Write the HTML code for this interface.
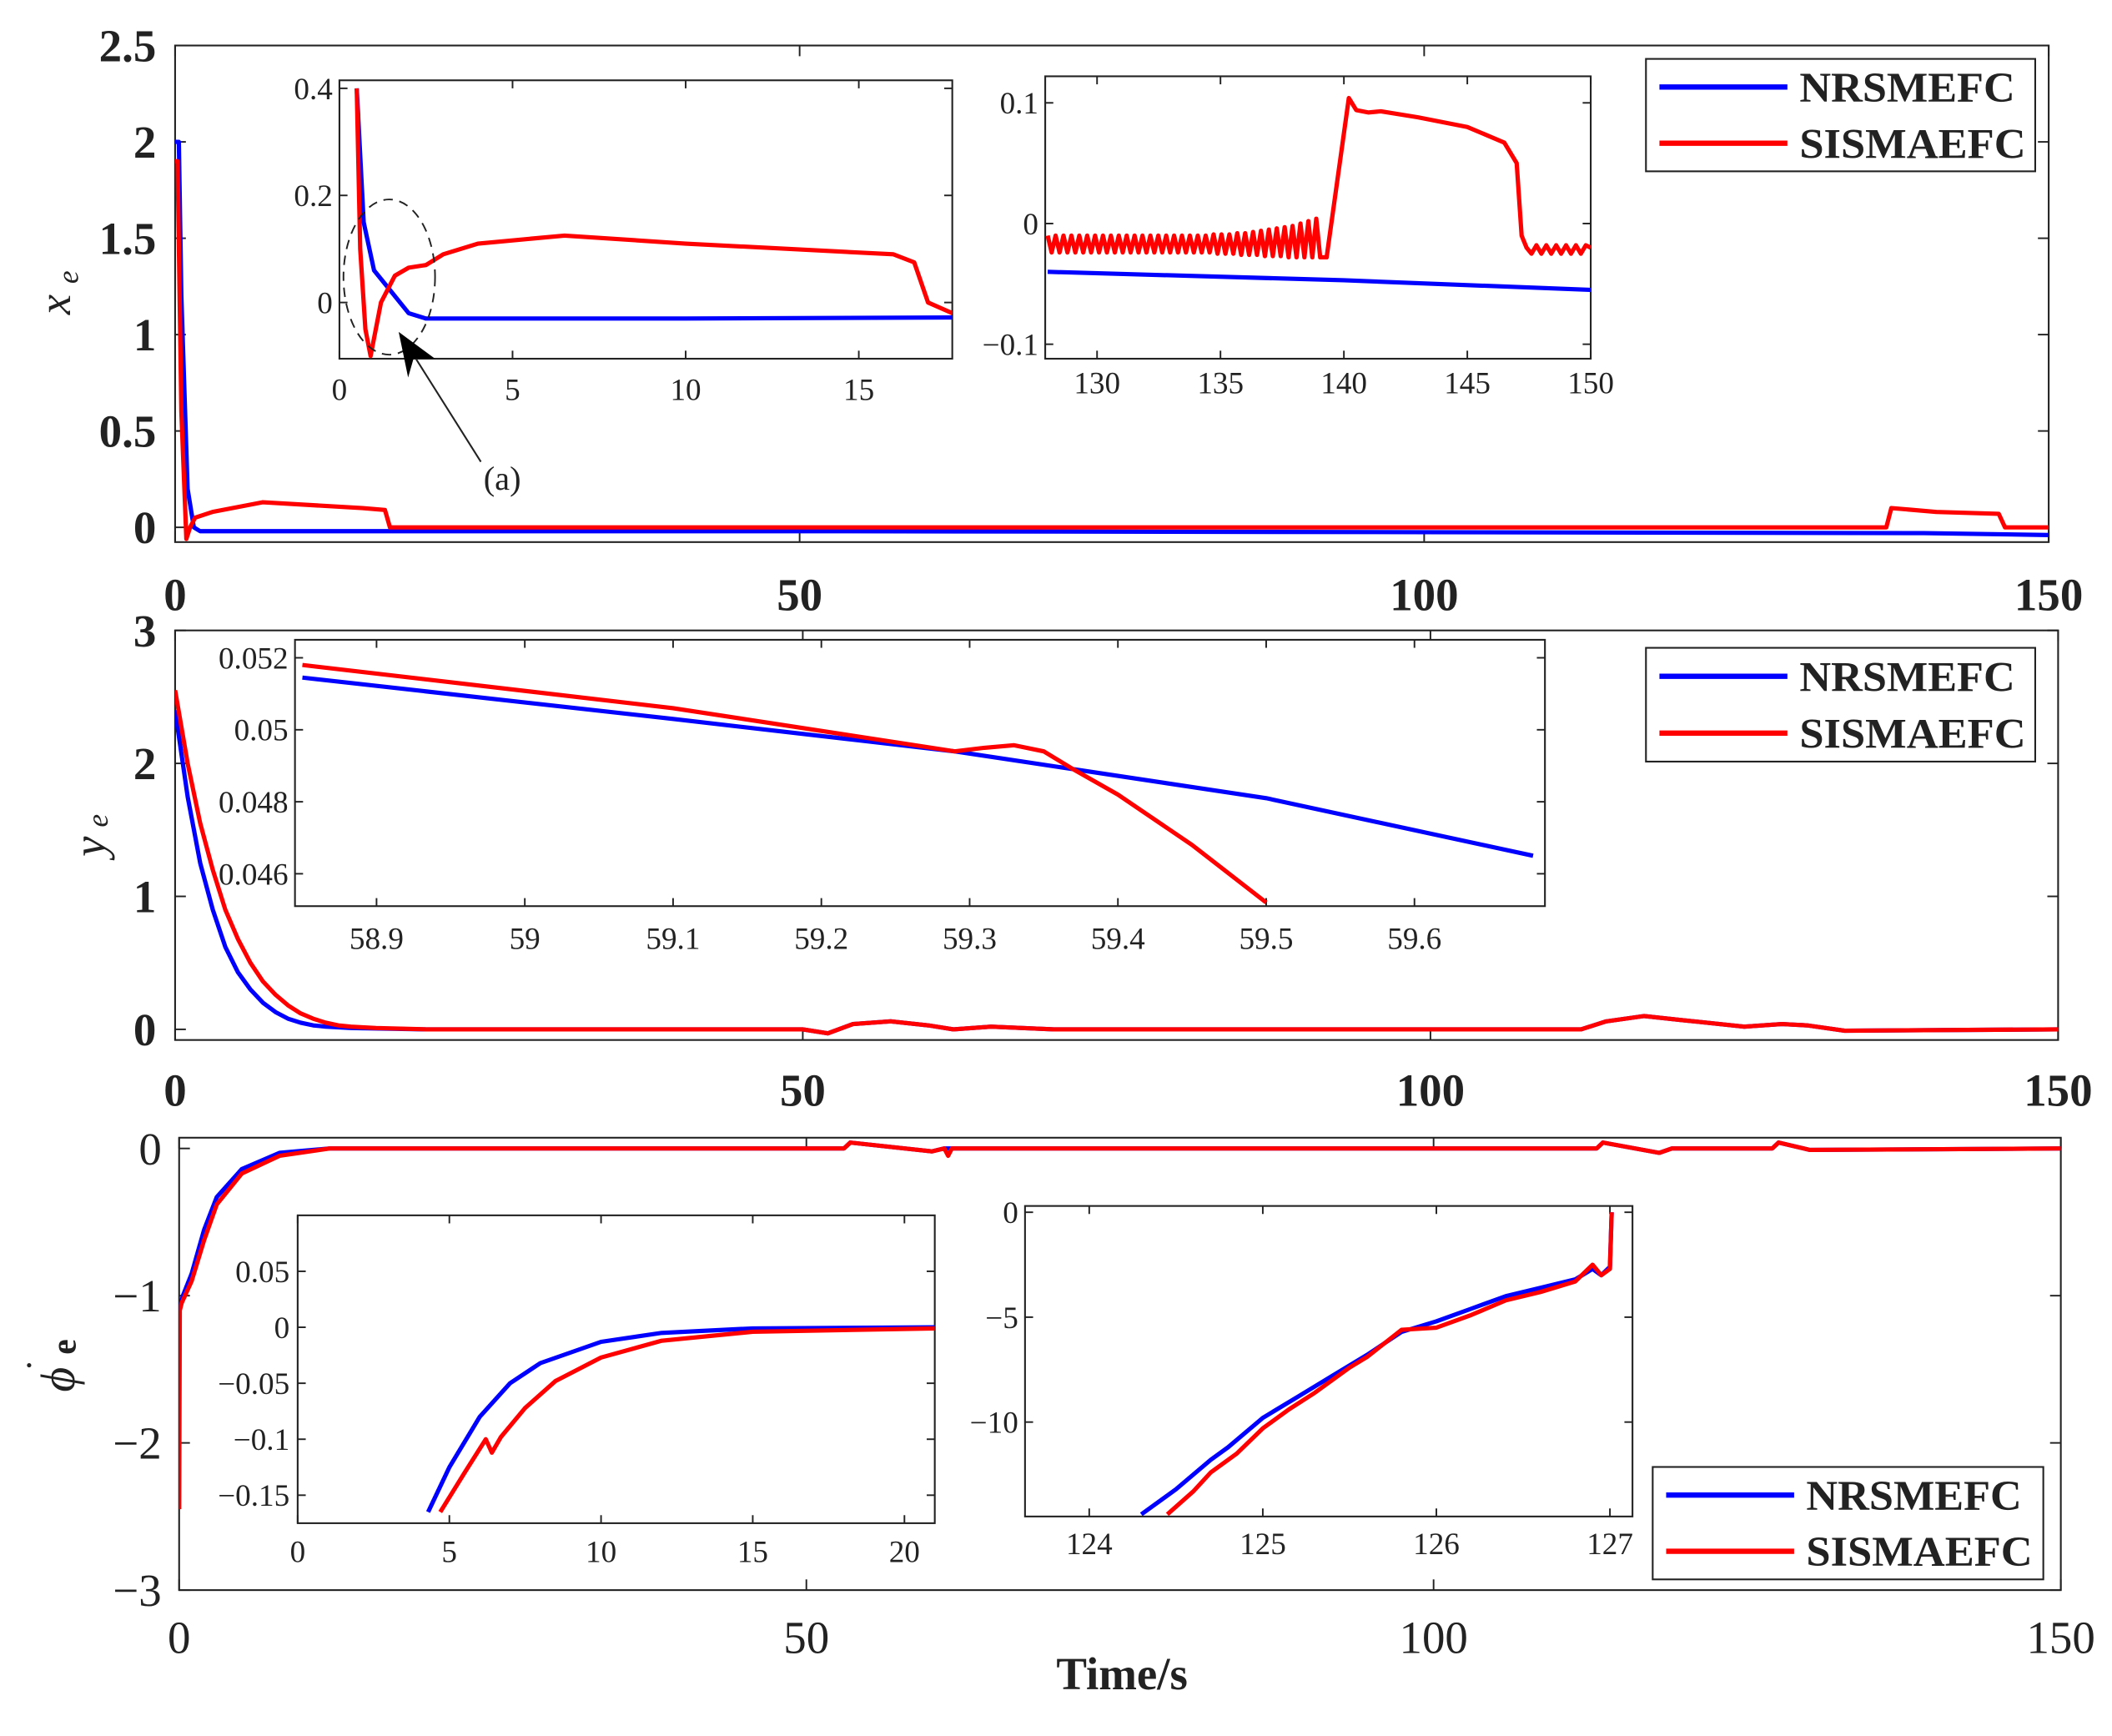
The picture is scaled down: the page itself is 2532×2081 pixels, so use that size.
<!DOCTYPE html>
<html><head><meta charset="utf-8"><style>
html,body{margin:0;padding:0;background:#fff;}
svg{display:block;}
text{font-family:"Liberation Serif",serif;fill:#222;}
</style></head><body>
<svg id="fig" width="2532" height="2081" viewBox="0 0 1568 1297" preserveAspectRatio="none" xmlns="http://www.w3.org/2000/svg">
<rect width="1568" height="1297" fill="#fff"/>
</svg>
<script>
// ---------- data ----------
const p1BlueT=[0,0.3,0.5,1,1.5,2,5,20,50,100,140,150];
const p1BlueV=[2.0,2.0,1.2,0.2,0.0,-0.02,-0.02,-0.02,-0.02,-0.025,-0.03,-0.04];
const p1RedT=[0,0.2,0.5,0.9,1.2,1.6,3,7,15,16.8,17.2,30,60,100,137,137.4,141,146,146.5,150];
const p1RedV=[1.9,1.9,0.6,-0.06,0.0,0.05,0.08,0.13,0.1,0.09,0.0,0.0,0.0,0.0,0.0,0.1,0.08,0.07,0.0,0.0];
const i1aBlueT=[0.5,0.7,1,1.5,2,2.5,3,5,10,17.7];
const i1aBlueV=[0.4,0.15,0.06,0.02,-0.02,-0.03,-0.03,-0.03,-0.03,-0.028];
const i1aRedT=[0.5,0.6,0.75,0.9,1.2,1.6,2.0,2.5,3,4,6.5,10,16,16.6,17,17.7];
const i1aRedV=[0.4,0.1,-0.05,-0.1,0.0,0.05,0.065,0.07,0.09,0.11,0.125,0.11,0.09,0.075,0.0,-0.02];
const i1bBlueT=[128,140,150];
const i1bBlueV=[-0.04,-0.047,-0.055];
const i1bRedT=[128,128.16,128.32,128.48,128.64,128.8,128.96,129.12,129.28,129.44,129.6,129.76,129.92,130.08,130.24,130.4,130.56,130.72,130.88,131.04,131.2,131.36,131.52,131.68,131.84,132,132.16,132.32,132.48,132.64,132.8,132.96,133.12,133.28,133.44,133.6,133.76,133.92,134.08,134.24,134.4,134.56,134.72,134.88,135.04,135.2,135.36,135.52,135.68,135.84,136,136.16,136.32,136.48,136.64,136.8,136.96,137.12,137.28,137.44,137.6,137.76,137.92,138.08,138.24,138.4,138.56,138.72,138.88,139.04,139.3,140.2,140.5,141,141.5,143,145,146.5,147,147.2,147.4,147.6,147.8,148,148.2,148.4,148.6,148.8,149,149.2,149.4,149.6,149.8,150];
const i1bRedV=[-0.01,-0.024,-0.01,-0.024,-0.01,-0.024,-0.01,-0.024,-0.01,-0.024,-0.01,-0.024,-0.01,-0.024,-0.01,-0.024,-0.01,-0.024,-0.01,-0.024,-0.01,-0.024,-0.01,-0.024,-0.01,-0.024,-0.01,-0.024,-0.01,-0.024,-0.01,-0.024,-0.01,-0.024,-0.01,-0.024,-0.01,-0.024,-0.01,-0.024,-0.01,-0.024,-0.009,-0.025,-0.009,-0.025,-0.009,-0.025,-0.008,-0.026,-0.008,-0.026,-0.007,-0.026,-0.006,-0.027,-0.005,-0.027,-0.004,-0.027,-0.003,-0.028,-0.002,-0.028,0.0,-0.028,0.002,-0.028,0.004,-0.028,-0.028,0.104,0.094,0.092,0.093,0.088,0.08,0.067,0.05,-0.01,-0.02,-0.025,-0.018,-0.025,-0.018,-0.025,-0.018,-0.025,-0.018,-0.025,-0.018,-0.025,-0.018,-0.02];
const p2BlueT=[0,1,2,3,4,5,6,7,8,9,10,11,12,14,20,50,52,54,57,60,62,65,70,100,112,114,117,120,125,128,130,133,150];
const p2BlueV=[2.4,1.75,1.25,0.9,0.62,0.43,0.3,0.2,0.13,0.08,0.05,0.03,0.02,0.01,0,0,-0.03,0.04,0.06,0.03,0.0,0.02,0.0,0.0,0.0,0.06,0.1,0.07,0.02,0.04,0.03,-0.01,0.0];
const p2RedT=[0,1,2,3,4,5,6,7,8,9,10,11,12,13,14,16,20,50,52,54,57,60,62,65,70,100,112,114,117,120,125,128,130,133,150];
const p2RedV=[2.55,2.0,1.55,1.2,0.9,0.68,0.5,0.36,0.26,0.18,0.12,0.08,0.05,0.03,0.02,0.01,0,0,-0.03,0.04,0.06,0.03,0.0,0.02,0.0,0.0,0.0,0.06,0.1,0.07,0.02,0.04,0.03,-0.01,0.0];
const i2BlueT=[58.85,59.1,59.29,59.5,59.68];
const i2BlueV=[0.05145,0.0503,0.0494,0.0481,0.0465];
const i2RedT=[58.85,59.1,59.29,59.31,59.33,59.35,59.37,59.4,59.45,59.5];
const i2RedV=[0.0518,0.0506,0.0494,0.0495,0.04957,0.0494,0.0489,0.0482,0.0468,0.0452];
const p3BlueT=[0,0.3,1,2,3,5,8,12,50,53,53.5,60,61,100,113,113.5,118,119,127,127.5,130,150];
const p3BlueV=[-1.1,-1.0,-0.85,-0.55,-0.33,-0.14,-0.03,0,0,0,0.04,-0.02,0,0,0,0.04,-0.03,0,0,0.04,-0.01,0];
const p3RedT=[0,0.05,0.2,1,2,3,5,8,12,50,53,53.5,60,61,61.3,61.6,100,113,113.5,118,119,127,127.5,130,150];
const p3RedV=[-2.45,-1.1,-1.05,-0.9,-0.62,-0.38,-0.17,-0.05,0,0,0,0.04,-0.02,0,-0.05,0,0,0,0.04,-0.03,0,0,0.04,-0.01,0];
const i3aBlueT=[4.3,5,6,7,8,10,12,15,21];
const i3aBlueV=[-0.165,-0.125,-0.08,-0.05,-0.032,-0.013,-0.005,-0.001,0];
const i3aRedT=[4.7,5.5,6.2,6.4,6.7,7.5,8.5,10,12,15,21];
const i3aRedV=[-0.165,-0.13,-0.1,-0.112,-0.098,-0.072,-0.048,-0.027,-0.012,-0.004,-0.001];
const i3bBlueT=[124.3,124.5,124.7,124.8,125,125.2,125.4,125.6,125.8,126,126.2,126.4,126.6,126.8,126.9,126.95,127.0,127.01];
const i3bBlueV=[-14.4,-13.2,-11.8,-11.2,-9.8,-8.8,-7.8,-6.8,-5.7,-5.2,-4.6,-4.0,-3.6,-3.2,-2.7,-3.0,-2.6,0];
const i3bRedT=[124.45,124.6,124.7,124.85,125,125.15,125.3,125.5,125.6,125.8,126,126.2,126.4,126.6,126.8,126.9,126.95,127.0,127.01];
const i3bRedV=[-14.4,-13.3,-12.4,-11.5,-10.3,-9.4,-8.6,-7.4,-6.9,-5.6,-5.5,-4.9,-4.2,-3.8,-3.3,-2.5,-3.0,-2.7,0];

// ---------- helpers ----------
const NS="http://www.w3.org/2000/svg";
const svg=document.getElementById('fig');
function mk(tag,attrs,parent){const e=document.createElementNS(NS,tag);for(const k in attrs)e.setAttribute(k,attrs[k]);(parent||svg).appendChild(e);return e;}
function axes(name,x0,x1,y0,y1,xmin,xmax,ymin,ymax){
  const g=mk('g',{});
  
  
  const sx=v=>x0+(v-xmin)/(xmax-xmin)*(x1-x0);
  const sy=v=>y1-(v-ymin)/(ymax-ymin)*(y1-y0);
  return {g,sx,sy,x0,x1,y0,y1};
}
function frame(a){
  const r=mk('rect',{x:a.x0,y:a.y0,width:a.x1-a.x0,height:a.y1-a.y0,fill:'#fff',stroke:'#222','stroke-width':1.3},a.g);
  
  
}
function xticks(a,vals,labels,ly,fs,bold,tl){
  vals.forEach((v,i)=>{const x=a.sx(v);
    mk('line',{x1:x,x2:x,y1:a.y1,y2:a.y1-tl,stroke:'#222','stroke-width':1.2},a.g);
    mk('line',{x1:x,x2:x,y1:a.y0,y2:a.y0+tl,stroke:'#222','stroke-width':1.2},a.g);
    const t=mk('text',{x:x,y:ly,'text-anchor':'middle','font-size':fs,'font-weight':bold?'bold':'normal'},a.g);
    t.textContent=labels[i];
    
    
  });
}
function yticks(a,vals,labels,lx,fs,bold,tl){
  vals.forEach((v,i)=>{const y=a.sy(v);
    mk('line',{x1:a.x0,x2:a.x0+tl,y1:y,y2:y,stroke:'#222','stroke-width':1.2},a.g);
    mk('line',{x1:a.x1,x2:a.x1-tl,y1:y,y2:y,stroke:'#222','stroke-width':1.2},a.g);
    const t=mk('text',{x:lx,y:y+fs*0.35,'text-anchor':'end','font-size':fs,'font-weight':bold?'bold':'normal'},a.g);
    t.textContent=labels[i];
    
    
  });
}
let clipN=0;
function series(a,T,V,color,name,w){
  const id='c'+(clipN++);
  const cp=mk('clipPath',{id:id},a.g);
  mk('rect',{x:a.x0,y:a.y0,width:a.x1-a.x0,height:a.y1-a.y0},cp);
  const pts=T.map((t,i)=>a.sx(t).toFixed(2)+','+a.sy(V[i]).toFixed(2)).join(' ');
  const p=mk('polyline',{points:pts,fill:'none',stroke:color,'stroke-width':w||3.2,'stroke-linejoin':'round','clip-path':'url(#'+id+')'},a.g);
  
  
}
function legend(x0,y0,x1,y1,name){
  const g=mk('g',{});
  
  
  mk('rect',{x:x0,y:y0,width:x1-x0,height:y1-y0,fill:'#fff',stroke:'#222','stroke-width':1.3},g);
  const h=(y1-y0)/2;
  [['NRSMEFC','#0000ff',160],['SISMAEFC','#ff0000',168]].forEach((e,i)=>{
    const yy=y0+h*(i+0.5);
    const l=mk('line',{x1:x0+10,x2:x0+105,y1:yy,y2:yy,stroke:e[1],'stroke-width':4},g);
    
    
    const t=mk('text',{x:x0+114,y:yy+11,'font-size':32,'font-weight':'bold',textLength:e[2],lengthAdjust:'spacingAndGlyphs'},g);
    t.textContent=e[0];
    
    
  });
}
function lbl(x,y,txt,fs,name,extra){
  const t=mk('text',Object.assign({x:x,y:y,'font-size':fs},extra||{}));
  t.textContent=txt;
  
  
  return t;
}

// ---------- panel 1 ----------
let a=axes('panel-xe',130,1521,34,405,0,150,-0.0765,2.5);
frame(a);
xticks(a,[0,50,100,150],['0','50','100','150'],456,34,true,8);
yticks(a,[0,0.5,1,1.5,2,2.5],['0','0.5','1','1.5','2','2.5'],116,34,true,8);
series(a,p1BlueT,p1BlueV,'#0000ff','series-nrsmefc-xe');
series(a,p1RedT,p1RedV,'#ff0000','series-sismaefc-xe');
lbl(52,235,'x',34,'y-axis-title-xe',{'font-style':'italic',transform:'rotate(-90 52 235)'});
lbl(58,212,'e',22,'y-axis-sub-xe',{'font-style':'italic',transform:'rotate(-90 58 212)'});

a=axes('inset-xe-start',252,707,60,268,0,17.7,-0.105,0.415);
frame(a);
xticks(a,[0,5,10,15],['0','5','10','15'],299,23,false,6);
yticks(a,[0,0.2,0.4],['0','0.2','0.4'],247,23,false,6);
series(a,i1aBlueT,i1aBlueV,'#0000ff','inset-nrsmefc-xe-start');
series(a,i1aRedT,i1aRedV,'#ff0000','inset-sismaefc-xe-start');
let el=mk('ellipse',{cx:289,cy:207,rx:34,ry:58,fill:'none',stroke:'#222','stroke-width':1.2,'stroke-dasharray':'7,5'});


el=mk('line',{x1:357,y1:345,x2:305,y2:262,stroke:'#222','stroke-width':1.3});


el=mk('polygon',{points:'296,248 323,268 307,268 303,282',fill:'#000'});


lbl(359,366,'(a)',25,'annotation-label');

a=axes('inset-xe-end',776,1181,57,268,127.9,150,-0.112,0.122);
frame(a);
xticks(a,[130,135,140,145,150],['130','135','140','145','150'],294,23,false,6);
yticks(a,[-0.1,0,0.1],['\u22120.1','0','0.1'],771,23,false,6);
series(a,i1bBlueT,i1bBlueV,'#0000ff','inset-nrsmefc-xe-end');
series(a,i1bRedT,i1bRedV,'#ff0000','inset-sismaefc-xe-end');
legend(1222,44,1511,128,'legend-xe');

// ---------- panel 2 ----------
a=axes('panel-ye',130,1528,471,777,0,150,-0.08,3);
frame(a);
xticks(a,[0,50,100,150],['0','50','100','150'],826,34,true,8);
yticks(a,[0,1,2,3],['0','1','2','3'],116,34,true,8);
series(a,p2BlueT,p2BlueV,'#0000ff','series-nrsmefc-ye');
series(a,p2RedT,p2RedV,'#ff0000','series-sismaefc-ye');
lbl(78,640,'y',34,'y-axis-title-ye',{'font-style':'italic',transform:'rotate(-90 78 640)'});
lbl(80,618,'e',22,'y-axis-sub-ye',{'font-style':'italic',transform:'rotate(-90 80 618)'});

a=axes('inset-ye',219,1147,478,677,58.845,59.688,0.0451,0.0525);
frame(a);
xticks(a,[58.9,59,59.1,59.2,59.3,59.4,59.5,59.6],['58.9','59','59.1','59.2','59.3','59.4','59.5','59.6'],709,23,false,6);
yticks(a,[0.046,0.048,0.05,0.052],['0.046','0.048','0.05','0.052'],214,23,false,6);
series(a,i2BlueT,i2BlueV,'#0000ff','inset-nrsmefc-ye');
series(a,i2RedT,i2RedV,'#ff0000','inset-sismaefc-ye');
legend(1222,484,1511,569,'legend-ye');

// ---------- panel 3 ----------
a=axes('panel-phie',133,1530,850,1188,0,150,-3,0.073);
frame(a);
xticks(a,[0,50,100,150],['0','50','100','150'],1235,34,false,8);
yticks(a,[-3,-2,-1,0],['\u22123','\u22122','\u22121','0'],120,34,false,8);
series(a,p3BlueT,p3BlueV,'#0000ff','series-nrsmefc-phie');
series(a,p3RedT,p3RedV,'#ff0000','series-sismaefc-phie');
lbl(833,1262,'Time/s',34,'x-axis-title',{'font-weight':'bold','text-anchor':'middle'});
lbl(55,1040,'\u03D5',36,'y-axis-title-phie',{'font-style':'italic',transform:'rotate(-90 55 1040)'});
lbl(56,1012,'e',26,'y-axis-sub-phie',{'font-weight':'bold',transform:'rotate(-90 56 1012)'});
lbl(40,1025,'\u02D9',30,'y-axis-dot-phie',{transform:'rotate(-90 40 1025)'});

a=axes('inset-phie-start',221,694,908,1138,0,21,-0.175,0.1);
frame(a);
xticks(a,[0,5,10,15,20],['0','5','10','15','20'],1167,23,false,6);
yticks(a,[-0.15,-0.1,-0.05,0,0.05],['\u22120.15','\u22120.1','\u22120.05','0','0.05'],215,23,false,6);
series(a,i3aBlueT,i3aBlueV,'#0000ff','inset-nrsmefc-phie-start');
series(a,i3aRedT,i3aRedV,'#ff0000','inset-sismaefc-phie-start');

a=axes('inset-phie-end',761,1212,901,1133,123.63,127.13,-14.5,0.3);
frame(a);
xticks(a,[124,125,126,127],['124','125','126','127'],1161,23,false,6);
yticks(a,[-10,-5,0],['\u221210','\u22125','0'],756,23,false,6);
series(a,i3bBlueT,i3bBlueV,'#0000ff','inset-nrsmefc-phie-end');
series(a,i3bRedT,i3bRedV,'#ff0000','inset-sismaefc-phie-end');
legend(1227,1096,1517,1180,'legend-phie');
</script>
</body></html>
